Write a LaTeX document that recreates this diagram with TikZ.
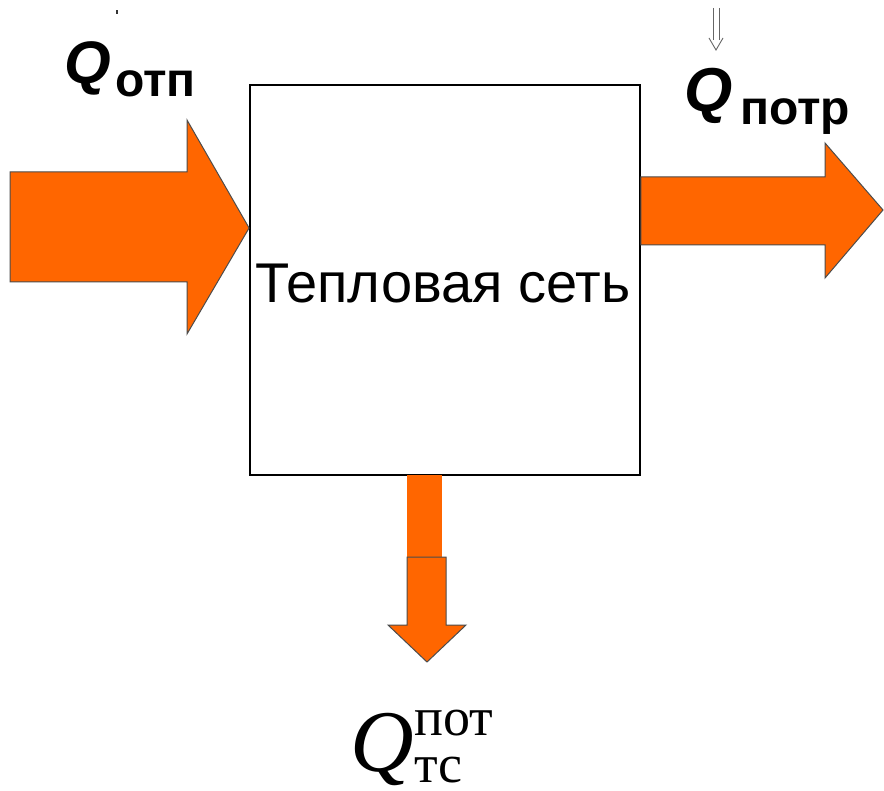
\documentclass[tikz,border=0pt]{standalone}
\usepackage{fontspec}
\setmainfont{Liberation Serif}
\newfontfamily\labelsans{Liberation Sans}
\definecolor{flow}{HTML}{FF6600}
\tikzset{
  flowarrow/.style={fill=flow, draw=black!70, line width=1pt, line join=miter},
  blockbox/.style={draw=black, line width=1.8pt, minimum width=390pt, minimum height=390pt, inner sep=0pt},
  flowlabel/.style={inner sep=0pt, anchor=base west, font=\labelsans\bfseries}
}
\begin{document}
\begin{tikzpicture}[x=1pt, y=-1pt]
  \useasboundingbox (0,0) rectangle (884,791);
  \fill[white] (0,0) rectangle (884,791);

  % heat network block
  \node[blockbox] (net) at (445,280) {};
  \node[inner sep=0pt, anchor=base, font=\labelsans\fontsize{56}{60}\selectfont] (nettext) at (443,303) {Тепловая сеть};

  % incoming heat flow
  \path[flowarrow] (10,172) -- (187,172) -- (187,120) -- (net.west |- 0,228) -- (187,334) -- (187,282) -- (10,282) -- cycle;

  % outgoing heat flow to consumers
  \path[flowarrow] (net.east |- 0,177) -- (825,177) -- (825,143) -- (883,210) -- (825,278) -- (825,245) -- (net.east |- 0,245) -- cycle;

  % losses in the network
  \fill[flow] (407,475) rectangle (442,557);
  \path[flowarrow] (407,557) -- (446,557) -- (446,625) -- (466,625) -- (427,662) -- (388,625) -- (407,625) -- cycle;

  % labels
  \node[flowlabel, font=\labelsans\bfseries\itshape\fontsize{60}{64}\selectfont] (qin) at (64,84) {Q};
  \node[flowlabel, font=\labelsans\bfseries\fontsize{48}{50}\selectfont] (qinsub) at (115,97) {отп};
  \fill[black!80] (116,10) rectangle (118,14);

  \node[flowlabel, font=\labelsans\bfseries\itshape\fontsize{62}{66}\selectfont] (qout) at (684,112) {Q};
  \node[flowlabel, font=\labelsans\bfseries\fontsize{48}{50}\selectfont] (qoutsub) at (740,125) {потр};

  % small hollow arrow above the consumer label
  \draw[black!60, line width=0.9pt] (713,8) -- (713,40) (719,8) -- (719,40);
  \draw[black!60, line width=0.9pt, line join=miter] (709,38) -- (716,50) -- (723,38);

  % loss label
  \node[inner sep=0pt, anchor=base west, font=\itshape\fontsize{88}{90}\selectfont] (qloss) at (350,771) {Q};
  \node[inner sep=0pt, anchor=base west, font=\fontsize{54}{58}\selectfont] (qlosssup) at (414,735) {пот};
  \node[inner sep=0pt, anchor=base west, font=\fontsize{54}{58}\selectfont] (qlosssub) at (414,782) {тс};
\end{tikzpicture}
\end{document}
